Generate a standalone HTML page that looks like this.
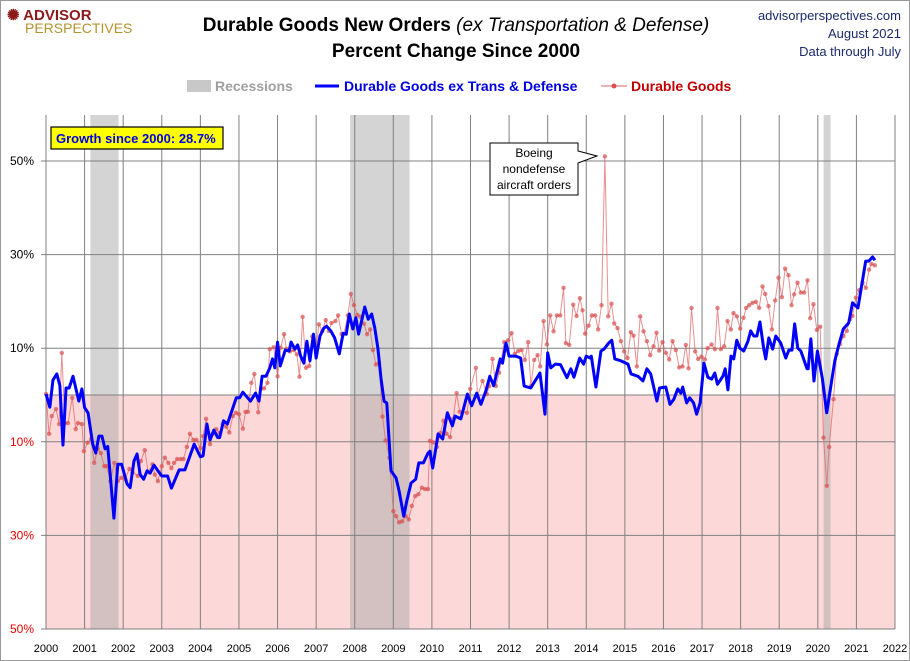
<!DOCTYPE html>
<html><head><meta charset="utf-8"><style>
body{margin:0;background:#fff;font-family:"Liberation Sans",sans-serif;}
#wrap{position:relative;width:908px;height:659px;border:1px solid #999;overflow:hidden;}
.t{position:absolute;white-space:nowrap;}
</style></head><body>
<div id="wrap">
<div class="t" style="left:6px;top:8px;color:#8b1a1a;font-weight:bold;font-size:15px;line-height:13px;">✺ ADVISOR<br><span style="font-weight:normal;color:#b5922c;font-size:14px;margin-left:18px;">PERSPECTIVES</span></div>
<div class="t" style="left:0;width:910px;top:12px;text-align:center;font-size:19px;font-weight:bold;line-height:26px;">Durable Goods New Orders <i style="font-weight:normal">(ex Transportation &amp; Defense)</i><br>Percent Change Since 2000</div>
<div class="t" style="right:8px;top:6px;text-align:right;font-size:13px;color:#1a2a6c;line-height:18px;">advisorperspectives.com<br>August 2021<br>Data through July</div>
<svg id="chart" width="910" height="661" style="position:absolute;left:0;top:0"></svg>
</div>
<script>
const years=[2000,2001,2002,2003,2004,2005,2006,2007,2008,2009,2010,2011,2012,2013,2014,2015,2016,2017,2018,2019,2020,2021,2022];
const yTicks=[50,30,10,-10,-30,-50];
const recessions=[[2001.15,2001.88],[2007.88,2009.42],[2020.15,2020.33]];
const blueDates=[2000,2000.1,2000.18,2000.28,2000.36,2000.44,2000.52,2000.6,2000.7,2000.85,2000.93,2001.0,2001.09,2001.21,2001.29,2001.37,2001.45,2001.53,2001.6,2001.76,2001.86,2001.96,2002.1,2002.18,2002.28,2002.36,2002.44,2002.53,2002.62,2002.7,2002.8,2002.9,2003.0,2003.15,2003.25,2003.45,2003.6,2003.7,2003.84,2004.0,2004.07,2004.17,2004.25,2004.35,2004.45,2004.5,2004.6,2004.7,2004.8,2004.93,2005.02,2005.1,2005.3,2005.43,2005.52,2005.6,2005.7,2005.8,2005.87,2005.93,2006.0,2006.07,2006.2,2006.3,2006.35,2006.45,2006.52,2006.6,2006.68,2006.76,2006.84,2006.93,2007.0,2007.1,2007.2,2007.27,2007.38,2007.48,2007.6,2007.7,2007.78,2007.86,2007.95,2008.03,2008.1,2008.26,2008.35,2008.44,2008.52,2008.6,2008.68,2008.76,2008.83,2008.94,2009.07,2009.15,2009.27,2009.35,2009.46,2009.58,2009.66,2009.78,2009.9,2009.95,2010.02,2010.16,2010.28,2010.4,2010.53,2010.6,2010.75,2010.92,2011.03,2011.16,2011.27,2011.4,2011.5,2011.6,2011.77,2011.83,2011.92,2012.0,2012.17,2012.3,2012.39,2012.56,2012.8,2012.93,2013.0,2013.08,2013.2,2013.33,2013.5,2013.6,2013.68,2013.83,2013.93,2014.0,2014.1,2014.13,2014.25,2014.38,2014.46,2014.58,2014.66,2014.74,2014.9,2015.08,2015.16,2015.34,2015.47,2015.57,2015.67,2015.83,2015.9,2016.06,2016.17,2016.27,2016.37,2016.45,2016.5,2016.6,2016.68,2016.78,2016.86,2016.95,2017.05,2017.15,2017.25,2017.33,2017.4,2017.54,2017.6,2017.67,2017.75,2017.82,2017.9,2017.98,2018.08,2018.19,2018.26,2018.34,2018.42,2018.5,2018.6,2018.65,2018.73,2018.83,2018.91,2019.04,2019.17,2019.25,2019.33,2019.4,2019.48,2019.56,2019.72,2019.75,2019.82,2019.9,2019.99,2020.12,2020.23,2020.33,2020.44,2020.55,2020.66,2020.8,2020.9,2021.04,2021.24,2021.32,2021.42,2021.48];
const blueVals=[0.2,-2.6,3.2,4.5,2,-10.7,1.5,1.5,4,-1.3,1.3,-2.7,-3.8,-10.5,-12.4,-8.8,-8.8,-11.5,-11,-26.3,-14.8,-14.8,-19,-19.8,-14.1,-12.6,-17,-18,-16.2,-16.7,-15,-16.2,-17.3,-17.3,-19.9,-16,-16,-13.7,-10.5,-13.2,-13,-6.2,-9.6,-7.5,-9.1,-9.1,-5.5,-6.2,-3.8,-0.6,-0.6,0.6,-1.3,0.4,-1.3,4,4,5.8,7.7,5.8,11.3,6.2,9.6,9.4,11.3,9.8,10.7,8.3,6.8,11.5,7.3,13,7.9,12.6,14.3,14.7,13.7,12.2,8.8,13.2,13,17.3,14.1,16.5,13,18.8,16.2,17.3,14.3,10,3.6,-1.3,-1.7,-16.2,-17.7,-20.5,-25.9,-22.6,-18.8,-18,-14.5,-14.5,-12.4,-12,-15.6,-8.3,-9.4,-3.8,-6.6,-4.5,-5.1,0.2,-2.3,0.4,-2,0.9,4,2,7.7,6.8,11.1,8.3,8.3,7.9,1.9,1.5,4.7,-4.1,9,5.8,6.6,6.5,3.7,5.6,3.8,7.9,6.6,8.3,7.9,8.3,1.7,9.4,9.8,11.1,11.7,7.7,7.3,6.6,4.5,4,3,5.6,4.5,-1.3,1.5,1.7,-2,-0.9,1.3,0.4,1.7,-1.7,-0.6,-1.7,-4.1,-1.7,6.8,3.8,3.4,4.7,2.3,4,5.6,1.1,8.3,7.7,11.7,10,9.4,11.5,13.7,12.6,12.6,15.6,9.8,7.7,12.2,9.8,12.6,11.1,7.9,9.6,9.6,15.2,10,9.4,5.6,5.6,12,3,9.4,3.4,-3.8,1.5,7.3,10.9,14.1,15.4,19.7,18.6,28.6,28.6,29.5,28.8];
const redDates=[2000,2000.08,2000.15,2000.26,2000.34,2000.41,2000.49,2000.57,2000.68,2000.77,2000.83,2000.93,2000.98,2001.08,2001.17,2001.25,2001.34,2001.42,2001.51,2001.57,2001.67,2001.77,2001.86,2001.95,2002.05,2002.16,2002.24,2002.38,2002.46,2002.56,2002.65,2002.76,2002.82,2002.9,2003.0,2003.08,2003.17,2003.25,2003.32,2003.4,2003.49,2003.56,2003.65,2003.73,2003.82,2003.9,2004.0,2004.07,2004.15,2004.25,2004.33,2004.41,2004.5,2004.58,2004.67,2004.75,2004.84,2004.92,2005.0,2005.1,2005.17,2005.23,2005.32,2005.4,2005.5,2005.57,2005.65,2005.74,2005.8,2005.9,2006.0,2006.08,2006.17,2006.23,2006.32,2006.42,2006.5,2006.57,2006.65,2006.74,2006.82,2006.9,2007.0,2007.07,2007.16,2007.25,2007.33,2007.4,2007.5,2007.57,2007.66,2007.72,2007.82,2007.9,2007.98,2008.07,2008.15,2008.24,2008.32,2008.4,2008.47,2008.55,2008.63,2008.72,2008.8,2008.9,2009.0,2009.07,2009.15,2009.23,2009.32,2009.4,2009.48,2009.57,2009.65,2009.74,2009.82,2009.9,2009.95,2010.03,2010.13,2010.22,2010.3,2010.38,2010.47,2010.55,2010.64,2010.72,2010.907,2010.993,2011.14,2011.183,2011.312,2011.425,2011.485,2011.571,2011.658,2011.744,2011.874,2011.977,2012.064,2012.15,2012.236,2012.323,2012.409,2012.495,2012.565,2012.651,2012.737,2012.806,2012.893,2012.979,2013.066,2013.152,2013.238,2013.325,2013.411,2013.471,2013.558,2013.661,2013.748,2013.834,2013.903,2013.972,2014.059,2014.145,2014.231,2014.309,2014.395,2014.482,2014.568,2014.654,2014.724,2014.81,2014.896,2014.983,2015.069,2015.155,2015.225,2015.311,2015.397,2015.484,2015.57,2015.656,2015.743,2015.82,2015.89,2015.976,2016.062,2016.149,2016.235,2016.321,2016.408,2016.494,2016.58,2016.649,2016.727,2016.822,2016.9,2016.986,2017.073,2017.142,2017.245,2017.332,2017.401,2017.487,2017.573,2017.66,2017.746,2017.815,2017.902,2017.988,2018.074,2018.143,2018.221,2018.308,2018.394,2018.48,2018.567,2018.636,2018.722,2018.809,2018.895,2018.981,2019.068,2019.154,2019.24,2019.318,2019.387,2019.474,2019.56,2019.646,2019.733,2019.802,2019.888,2019.974,2020.061,2020.147,2020.233,2020.294,2020.406,2020.492,2020.579,2020.665,2020.752,2020.838,2020.898,2020.985,2021.071,2021.158,2021.244,2021.33,2021.391,2021.477];
const redVals=[0.2,-8.3,-4.5,-3,-6.2,9,-6,-6,-0.6,-7.3,-6,-6.2,-12,-10.2,-9.4,-14.5,-11.5,-12.4,-15.2,-15.2,-18.4,-14.5,-18.4,-17.7,-18,-15.8,-16.5,-17.3,-14.1,-11.8,-16.5,-14.8,-17,-18.4,-15.2,-13.4,-14.5,-15.6,-14.5,-13.7,-13.7,-13.7,-11.1,-8.3,-9.6,-9.6,-11.3,-8.8,-5.1,-10.5,-8.3,-7.3,-8.1,-6.2,-6.8,-8,-4.5,-3.8,-4.1,-7.2,-3.6,-3.6,2.6,4.5,-3.7,1.4,1.4,2.6,9.8,10.2,4,10.1,13,9.8,9.3,9.6,8.7,3.9,16.7,5.8,6.2,12.5,9.8,15.1,13.7,16,13.7,15.4,15.8,17,13,13,17,21.6,19.2,17.1,16.7,15.2,13,14,9.6,6.5,6.9,-4.6,-9.7,-13.4,-24.8,-25.9,-27.2,-27,-25.9,-26.6,-23.7,-21.6,-21.2,-19.8,-20.1,-20.1,-9.8,-10.1,-11.1,-8.1,-5.5,-8.3,-9,-5.1,0.4,-3.6,-3.8,1.3,5.8,-0.2,3,0.2,1.9,7.7,1.9,4.8,11.3,11.7,13.2,8.8,9.4,9.6,7.5,11.3,1.9,7.5,8.5,6.1,15.8,10.8,17,13.6,17,17,22.9,11.1,10.7,19.3,16.9,20.7,18.1,13.1,14.8,17,17,14,19.2,51,16.8,19.5,15.3,14.3,11.5,9.3,7.9,13.4,12.7,6.1,16.8,13.6,11.5,8.5,10.4,13.3,9.5,11.3,9,7.6,11.5,9.6,5.9,6.1,10.7,5.7,18.6,9.3,7.7,8.2,7.6,10,10.8,9.8,18.6,9.8,10.4,15.8,14,17.5,16.8,14.2,16.5,18.6,19.2,19.7,19.9,18.6,23.2,21.6,19,14,20.2,25.1,20.9,27,25.6,19.2,21.5,24,21.9,21.9,24.5,16.4,19.4,13.9,14.6,-9.1,-19.4,-11.1,-0.9,8.8,10.9,12.6,13.7,16.2,16.9,20.8,22.4,24,22.9,26.8,28,27.7];

const svg=document.getElementById('chart'),NS='http://www.w3.org/2000/svg';
const L=45,R=894,T=114,B=628;
const X=y=>L+(y-2000)*(R-L)/22;
const Y=v=>B-(v+50)*4.68;
function mk(tag,attrs,parent){const e=document.createElementNS(NS,tag);for(const k in attrs)e.setAttribute(k,attrs[k]);(parent||svg).appendChild(e);return e;}
let e;
e=mk('rect',{x:L,y:Y(0),width:R-L,height:B-Y(0),fill:'#fdd8d8'});


recessions.forEach(r=>{
 e=mk('rect',{x:X(r[0]),y:T,width:X(r[1])-X(r[0]),height:B-T,fill:'#a9a9a9','fill-opacity':0.5});
 
 
});
years.forEach(yr=>{
 e=mk('line',{x1:X(yr),x2:X(yr),y1:T,y2:B,stroke:'#808080','stroke-width':1});
 
 
 e=mk('text',{x:X(yr),y:651,'text-anchor':'middle','font-size':11,'font-family':'Liberation Sans, sans-serif'});
 e.textContent=yr;
 
 
});
yTicks.forEach(v=>{
 e=mk('line',{x1:40,x2:R,y1:Y(v),y2:Y(v),stroke:'#808080','stroke-width':1});
 
 
 e=mk('text',{x:33,y:Y(v)+4,'text-anchor':'end','font-size':12,'font-family':'Liberation Sans, sans-serif',fill:v<0?'#e00':'#000'});
 e.textContent=Math.abs(v)+'%';
 
 
});
e=mk('line',{x1:L,x2:R,y1:Y(0),y2:Y(0),stroke:'#808080'});


e=mk('polyline',{points:redDates.map((d,i)=>X(d)+','+Y(redVals[i])).join(' '),fill:'none',stroke:'#e06060','stroke-width':1,'stroke-opacity':0.7});


redDates.forEach((d,i)=>{
 e=mk('circle',{cx:X(d),cy:Y(redVals[i]),r:2.2,fill:'#d85050','fill-opacity':0.7});
 
 
});
e=mk('polyline',{points:blueDates.map((d,i)=>X(d)+','+Y(blueVals[i])).join(' '),fill:'none',stroke:'#0000ff','stroke-width':3,'stroke-linejoin':'round'});


// legend
e=mk('rect',{x:186,y:79,width:24,height:12,fill:'#c8c8c8'});


e=mk('text',{x:214,y:90,'font-size':14,'font-weight':'bold',fill:'#a0a0a0','font-family':'Liberation Sans, sans-serif'});e.textContent='Recessions';


e=mk('line',{x1:314,x2:338,y1:85,y2:85,stroke:'#00f','stroke-width':3});


e=mk('text',{x:343,y:90,'font-size':14,'font-weight':'bold',fill:'#0000e0','font-family':'Liberation Sans, sans-serif'});e.textContent='Durable Goods ex Trans & Defense';


e=mk('line',{x1:600,x2:626,y1:85,y2:85,stroke:'#e06060','stroke-width':1});


e=mk('circle',{cx:613,cy:85,r:2.5,fill:'#d85050'});


e=mk('text',{x:630,y:90,'font-size':14,'font-weight':'bold',fill:'#c00000','font-family':'Liberation Sans, sans-serif'});e.textContent='Durable Goods';


// growth box
e=mk('rect',{x:50,y:126,width:172,height:22,fill:'#ffff00',stroke:'#000','stroke-width':1.2});


e=mk('text',{x:55,y:142,'font-size':13,'font-weight':'bold',fill:'#0000e0','font-family':'Liberation Sans, sans-serif'});e.textContent='Growth since 2000:  28.7%';


// annotation
e=mk('path',{d:'M489,142 H577 V150 L596,155 L577,162 V194 H489 Z',fill:'#fff',stroke:'#000','stroke-width':1});


[['Boeing',156],['nondefense',172],['aircraft orders',188]].forEach(a=>{
 e=mk('text',{x:533,y:a[1],'text-anchor':'middle','font-size':12,'font-family':'Liberation Sans, sans-serif'});e.textContent=a[0];
 
 
});
</script>
</body></html>
